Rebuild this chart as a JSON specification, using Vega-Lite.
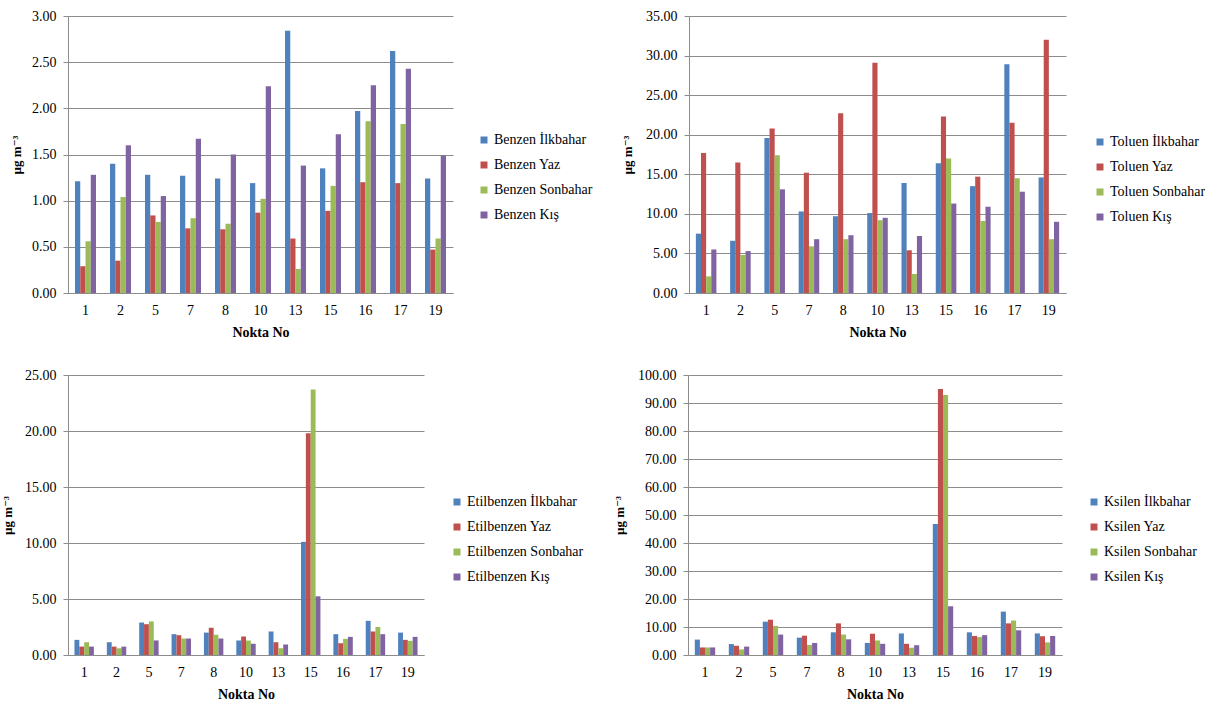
{
  "$schema": "https://vega.github.io/schema/vega-lite/v6.json",
  "padding": {"left": 1, "top": 9, "right": 0, "bottom": 0},
  "background": "white",
  "config": {
    "font": "'Liberation Serif', 'Times New Roman', 'DejaVu Serif', serif",
    "view": {"stroke": null},
    "axis": {"labelFont": "'Liberation Serif', 'Times New Roman', 'DejaVu Serif', serif", "labelFontSize": 14, "labelColor": "#000", "titleFont": "'Liberation Serif', 'Times New Roman', 'DejaVu Serif', serif", "titleFontSize": 14, "titleFontWeight": "bold", "titleColor": "#000", "domainColor": "#8c8c8c", "gridColor": "#8c8c8c", "tickColor": "#8c8c8c"},
    "axisX": {"ticks": false, "labelAngle": 0, "labelPadding": 10, "titlePadding": 8, "grid": false},
    "axisY": {"tickSize": 5, "labelPadding": 7, "grid": true, "domain": true, "titleAngle": 270, "titleBaseline": "middle", "titleFontSize": 13},
    "legend": {"orient": "none", "title": null, "symbolType": "square", "symbolSize": 49, "symbolStrokeWidth": 0, "labelFont": "'Liberation Serif', 'Times New Roman', 'DejaVu Serif', serif", "labelFontSize": 14, "labelColor": "#000", "rowPadding": 11, "labelOffset": 3, "padding": 0, "labelLimit": 300}
  },
  "datasets": {
    "d": [
      {"c":"Benzen","p":"1","s":"Benzen İlkbahar","v":1.21},{"c":"Benzen","p":"1","s":"Benzen Yaz","v":0.29},{"c":"Benzen","p":"1","s":"Benzen Sonbahar","v":0.56},{"c":"Benzen","p":"1","s":"Benzen Kış","v":1.28},
      {"c":"Benzen","p":"2","s":"Benzen İlkbahar","v":1.40},{"c":"Benzen","p":"2","s":"Benzen Yaz","v":0.35},{"c":"Benzen","p":"2","s":"Benzen Sonbahar","v":1.04},{"c":"Benzen","p":"2","s":"Benzen Kış","v":1.60},
      {"c":"Benzen","p":"5","s":"Benzen İlkbahar","v":1.28},{"c":"Benzen","p":"5","s":"Benzen Yaz","v":0.84},{"c":"Benzen","p":"5","s":"Benzen Sonbahar","v":0.77},{"c":"Benzen","p":"5","s":"Benzen Kış","v":1.05},
      {"c":"Benzen","p":"7","s":"Benzen İlkbahar","v":1.27},{"c":"Benzen","p":"7","s":"Benzen Yaz","v":0.70},{"c":"Benzen","p":"7","s":"Benzen Sonbahar","v":0.81},{"c":"Benzen","p":"7","s":"Benzen Kış","v":1.67},
      {"c":"Benzen","p":"8","s":"Benzen İlkbahar","v":1.24},{"c":"Benzen","p":"8","s":"Benzen Yaz","v":0.69},{"c":"Benzen","p":"8","s":"Benzen Sonbahar","v":0.75},{"c":"Benzen","p":"8","s":"Benzen Kış","v":1.50},
      {"c":"Benzen","p":"10","s":"Benzen İlkbahar","v":1.19},{"c":"Benzen","p":"10","s":"Benzen Yaz","v":0.87},{"c":"Benzen","p":"10","s":"Benzen Sonbahar","v":1.02},{"c":"Benzen","p":"10","s":"Benzen Kış","v":2.24},
      {"c":"Benzen","p":"13","s":"Benzen İlkbahar","v":2.84},{"c":"Benzen","p":"13","s":"Benzen Yaz","v":0.59},{"c":"Benzen","p":"13","s":"Benzen Sonbahar","v":0.26},{"c":"Benzen","p":"13","s":"Benzen Kış","v":1.38},
      {"c":"Benzen","p":"15","s":"Benzen İlkbahar","v":1.35},{"c":"Benzen","p":"15","s":"Benzen Yaz","v":0.89},{"c":"Benzen","p":"15","s":"Benzen Sonbahar","v":1.16},{"c":"Benzen","p":"15","s":"Benzen Kış","v":1.72},
      {"c":"Benzen","p":"16","s":"Benzen İlkbahar","v":1.97},{"c":"Benzen","p":"16","s":"Benzen Yaz","v":1.20},{"c":"Benzen","p":"16","s":"Benzen Sonbahar","v":1.86},{"c":"Benzen","p":"16","s":"Benzen Kış","v":2.25},
      {"c":"Benzen","p":"17","s":"Benzen İlkbahar","v":2.62},{"c":"Benzen","p":"17","s":"Benzen Yaz","v":1.19},{"c":"Benzen","p":"17","s":"Benzen Sonbahar","v":1.83},{"c":"Benzen","p":"17","s":"Benzen Kış","v":2.43},
      {"c":"Benzen","p":"19","s":"Benzen İlkbahar","v":1.24},{"c":"Benzen","p":"19","s":"Benzen Yaz","v":0.47},{"c":"Benzen","p":"19","s":"Benzen Sonbahar","v":0.59},{"c":"Benzen","p":"19","s":"Benzen Kış","v":1.49},

      {"c":"Toluen","p":"1","s":"Toluen İlkbahar","v":7.5},{"c":"Toluen","p":"1","s":"Toluen Yaz","v":17.7},{"c":"Toluen","p":"1","s":"Toluen Sonbahar","v":2.1},{"c":"Toluen","p":"1","s":"Toluen Kış","v":5.5},
      {"c":"Toluen","p":"2","s":"Toluen İlkbahar","v":6.6},{"c":"Toluen","p":"2","s":"Toluen Yaz","v":16.5},{"c":"Toluen","p":"2","s":"Toluen Sonbahar","v":4.8},{"c":"Toluen","p":"2","s":"Toluen Kış","v":5.3},
      {"c":"Toluen","p":"5","s":"Toluen İlkbahar","v":19.6},{"c":"Toluen","p":"5","s":"Toluen Yaz","v":20.8},{"c":"Toluen","p":"5","s":"Toluen Sonbahar","v":17.4},{"c":"Toluen","p":"5","s":"Toluen Kış","v":13.1},
      {"c":"Toluen","p":"7","s":"Toluen İlkbahar","v":10.3},{"c":"Toluen","p":"7","s":"Toluen Yaz","v":15.2},{"c":"Toluen","p":"7","s":"Toluen Sonbahar","v":5.9},{"c":"Toluen","p":"7","s":"Toluen Kış","v":6.8},
      {"c":"Toluen","p":"8","s":"Toluen İlkbahar","v":9.7},{"c":"Toluen","p":"8","s":"Toluen Yaz","v":22.7},{"c":"Toluen","p":"8","s":"Toluen Sonbahar","v":6.8},{"c":"Toluen","p":"8","s":"Toluen Kış","v":7.3},
      {"c":"Toluen","p":"10","s":"Toluen İlkbahar","v":10.1},{"c":"Toluen","p":"10","s":"Toluen Yaz","v":29.1},{"c":"Toluen","p":"10","s":"Toluen Sonbahar","v":9.2},{"c":"Toluen","p":"10","s":"Toluen Kış","v":9.5},
      {"c":"Toluen","p":"13","s":"Toluen İlkbahar","v":13.9},{"c":"Toluen","p":"13","s":"Toluen Yaz","v":5.4},{"c":"Toluen","p":"13","s":"Toluen Sonbahar","v":2.4},{"c":"Toluen","p":"13","s":"Toluen Kış","v":7.2},
      {"c":"Toluen","p":"15","s":"Toluen İlkbahar","v":16.4},{"c":"Toluen","p":"15","s":"Toluen Yaz","v":22.3},{"c":"Toluen","p":"15","s":"Toluen Sonbahar","v":17.0},{"c":"Toluen","p":"15","s":"Toluen Kış","v":11.3},
      {"c":"Toluen","p":"16","s":"Toluen İlkbahar","v":13.5},{"c":"Toluen","p":"16","s":"Toluen Yaz","v":14.7},{"c":"Toluen","p":"16","s":"Toluen Sonbahar","v":9.1},{"c":"Toluen","p":"16","s":"Toluen Kış","v":10.9},
      {"c":"Toluen","p":"17","s":"Toluen İlkbahar","v":28.9},{"c":"Toluen","p":"17","s":"Toluen Yaz","v":21.5},{"c":"Toluen","p":"17","s":"Toluen Sonbahar","v":14.5},{"c":"Toluen","p":"17","s":"Toluen Kış","v":12.8},
      {"c":"Toluen","p":"19","s":"Toluen İlkbahar","v":14.6},{"c":"Toluen","p":"19","s":"Toluen Yaz","v":32.0},{"c":"Toluen","p":"19","s":"Toluen Sonbahar","v":6.8},{"c":"Toluen","p":"19","s":"Toluen Kış","v":9.0},

      {"c":"Etilbenzen","p":"1","s":"Etilbenzen İlkbahar","v":1.35},{"c":"Etilbenzen","p":"1","s":"Etilbenzen Yaz","v":0.75},{"c":"Etilbenzen","p":"1","s":"Etilbenzen Sonbahar","v":1.14},{"c":"Etilbenzen","p":"1","s":"Etilbenzen Kış","v":0.75},
      {"c":"Etilbenzen","p":"2","s":"Etilbenzen İlkbahar","v":1.14},{"c":"Etilbenzen","p":"2","s":"Etilbenzen Yaz","v":0.75},{"c":"Etilbenzen","p":"2","s":"Etilbenzen Sonbahar","v":0.6},{"c":"Etilbenzen","p":"2","s":"Etilbenzen Kış","v":0.75},
      {"c":"Etilbenzen","p":"5","s":"Etilbenzen İlkbahar","v":2.9},{"c":"Etilbenzen","p":"5","s":"Etilbenzen Yaz","v":2.75},{"c":"Etilbenzen","p":"5","s":"Etilbenzen Sonbahar","v":3.0},{"c":"Etilbenzen","p":"5","s":"Etilbenzen Kış","v":1.3},
      {"c":"Etilbenzen","p":"7","s":"Etilbenzen İlkbahar","v":1.86},{"c":"Etilbenzen","p":"7","s":"Etilbenzen Yaz","v":1.77},{"c":"Etilbenzen","p":"7","s":"Etilbenzen Sonbahar","v":1.47},{"c":"Etilbenzen","p":"7","s":"Etilbenzen Kış","v":1.47},
      {"c":"Etilbenzen","p":"8","s":"Etilbenzen İlkbahar","v":2.0},{"c":"Etilbenzen","p":"8","s":"Etilbenzen Yaz","v":2.43},{"c":"Etilbenzen","p":"8","s":"Etilbenzen Sonbahar","v":1.8},{"c":"Etilbenzen","p":"8","s":"Etilbenzen Kış","v":1.47},
      {"c":"Etilbenzen","p":"10","s":"Etilbenzen İlkbahar","v":1.29},{"c":"Etilbenzen","p":"10","s":"Etilbenzen Yaz","v":1.65},{"c":"Etilbenzen","p":"10","s":"Etilbenzen Sonbahar","v":1.29},{"c":"Etilbenzen","p":"10","s":"Etilbenzen Kış","v":1.0},
      {"c":"Etilbenzen","p":"13","s":"Etilbenzen İlkbahar","v":2.1},{"c":"Etilbenzen","p":"13","s":"Etilbenzen Yaz","v":1.14},{"c":"Etilbenzen","p":"13","s":"Etilbenzen Sonbahar","v":0.6},{"c":"Etilbenzen","p":"13","s":"Etilbenzen Kış","v":0.93},
      {"c":"Etilbenzen","p":"15","s":"Etilbenzen İlkbahar","v":10.1},{"c":"Etilbenzen","p":"15","s":"Etilbenzen Yaz","v":19.8},{"c":"Etilbenzen","p":"15","s":"Etilbenzen Sonbahar","v":23.7},{"c":"Etilbenzen","p":"15","s":"Etilbenzen Kış","v":5.24},
      {"c":"Etilbenzen","p":"16","s":"Etilbenzen İlkbahar","v":1.86},{"c":"Etilbenzen","p":"16","s":"Etilbenzen Yaz","v":1.05},{"c":"Etilbenzen","p":"16","s":"Etilbenzen Sonbahar","v":1.44},{"c":"Etilbenzen","p":"16","s":"Etilbenzen Kış","v":1.62},
      {"c":"Etilbenzen","p":"17","s":"Etilbenzen İlkbahar","v":3.05},{"c":"Etilbenzen","p":"17","s":"Etilbenzen Yaz","v":2.1},{"c":"Etilbenzen","p":"17","s":"Etilbenzen Sonbahar","v":2.5},{"c":"Etilbenzen","p":"17","s":"Etilbenzen Kış","v":1.86},
      {"c":"Etilbenzen","p":"19","s":"Etilbenzen İlkbahar","v":2.0},{"c":"Etilbenzen","p":"19","s":"Etilbenzen Yaz","v":1.35},{"c":"Etilbenzen","p":"19","s":"Etilbenzen Sonbahar","v":1.26},{"c":"Etilbenzen","p":"19","s":"Etilbenzen Kış","v":1.62},

      {"c":"Ksilen","p":"1","s":"Ksilen İlkbahar","v":5.5},{"c":"Ksilen","p":"1","s":"Ksilen Yaz","v":2.7},{"c":"Ksilen","p":"1","s":"Ksilen Sonbahar","v":2.7},{"c":"Ksilen","p":"1","s":"Ksilen Kış","v":2.7},
      {"c":"Ksilen","p":"2","s":"Ksilen İlkbahar","v":3.9},{"c":"Ksilen","p":"2","s":"Ksilen Yaz","v":3.3},{"c":"Ksilen","p":"2","s":"Ksilen Sonbahar","v":2.0},{"c":"Ksilen","p":"2","s":"Ksilen Kış","v":3.0},
      {"c":"Ksilen","p":"5","s":"Ksilen İlkbahar","v":11.9},{"c":"Ksilen","p":"5","s":"Ksilen Yaz","v":12.6},{"c":"Ksilen","p":"5","s":"Ksilen Sonbahar","v":10.4},{"c":"Ksilen","p":"5","s":"Ksilen Kış","v":7.3},
      {"c":"Ksilen","p":"7","s":"Ksilen İlkbahar","v":6.2},{"c":"Ksilen","p":"7","s":"Ksilen Yaz","v":6.9},{"c":"Ksilen","p":"7","s":"Ksilen Sonbahar","v":3.6},{"c":"Ksilen","p":"7","s":"Ksilen Kış","v":4.3},
      {"c":"Ksilen","p":"8","s":"Ksilen İlkbahar","v":8.1},{"c":"Ksilen","p":"8","s":"Ksilen Yaz","v":11.3},{"c":"Ksilen","p":"8","s":"Ksilen Sonbahar","v":7.3},{"c":"Ksilen","p":"8","s":"Ksilen Kış","v":5.6},
      {"c":"Ksilen","p":"10","s":"Ksilen İlkbahar","v":4.3},{"c":"Ksilen","p":"10","s":"Ksilen Yaz","v":7.6},{"c":"Ksilen","p":"10","s":"Ksilen Sonbahar","v":5.2},{"c":"Ksilen","p":"10","s":"Ksilen Kış","v":4.0},
      {"c":"Ksilen","p":"13","s":"Ksilen İlkbahar","v":7.7},{"c":"Ksilen","p":"13","s":"Ksilen Yaz","v":4.0},{"c":"Ksilen","p":"13","s":"Ksilen Sonbahar","v":2.6},{"c":"Ksilen","p":"13","s":"Ksilen Kış","v":3.5},
      {"c":"Ksilen","p":"15","s":"Ksilen İlkbahar","v":46.8},{"c":"Ksilen","p":"15","s":"Ksilen Yaz","v":95.0},{"c":"Ksilen","p":"15","s":"Ksilen Sonbahar","v":92.9},{"c":"Ksilen","p":"15","s":"Ksilen Kış","v":17.4},
      {"c":"Ksilen","p":"16","s":"Ksilen İlkbahar","v":8.1},{"c":"Ksilen","p":"16","s":"Ksilen Yaz","v":6.8},{"c":"Ksilen","p":"16","s":"Ksilen Sonbahar","v":6.4},{"c":"Ksilen","p":"16","s":"Ksilen Kış","v":7.1},
      {"c":"Ksilen","p":"17","s":"Ksilen İlkbahar","v":15.5},{"c":"Ksilen","p":"17","s":"Ksilen Yaz","v":11.3},{"c":"Ksilen","p":"17","s":"Ksilen Sonbahar","v":12.3},{"c":"Ksilen","p":"17","s":"Ksilen Kış","v":8.8},
      {"c":"Ksilen","p":"19","s":"Ksilen İlkbahar","v":7.7},{"c":"Ksilen","p":"19","s":"Ksilen Yaz","v":6.7},{"c":"Ksilen","p":"19","s":"Ksilen Sonbahar","v":4.5},{"c":"Ksilen","p":"19","s":"Ksilen Kış","v":6.8}
    ]
  },
  "spacing": 29,
  "resolve": {"scale": {"color": "independent", "x": "independent", "y": "independent", "xOffset": "independent"}, "legend": {"color": "independent"}},
  "vconcat": [
    {
      "hconcat": [
        {
          "width": 385, "height": 277,
          "data": {"name": "d"},
          "transform": [{"filter": "datum.c === 'Benzen'"}],
          "mark": {"type": "bar"},
          "encoding": {
            "x": {"field": "p", "type": "nominal", "sort": null, "scale": {"paddingInner": 0.4, "paddingOuter": 0.2}, "axis": {"title": "Nokta No"}},
            "xOffset": {"field": "s", "type": "nominal", "sort": null, "scale": {"paddingInner": 0, "paddingOuter": 0}},
            "y": {"field": "v", "type": "quantitative", "scale": {"domain": [0, 3], "nice": false}, "axis": {"values": [0, 0.5, 1, 1.5, 2, 2.5, 3], "format": ".2f", "title": "µg m⁻³", "titleX": -51.5}},
            "color": {"field": "s", "type": "nominal", "sort": null, "scale": {"range": ["#4F81BD", "#C0504D", "#9BBB59", "#8064A2"]}, "legend": {"legendX": 409, "legendY": 117}}
          }
        },
        {
          "width": 377, "height": 277,
          "data": {"name": "d"},
          "transform": [{"filter": "datum.c === 'Toluen'"}],
          "mark": {"type": "bar"},
          "encoding": {
            "x": {"field": "p", "type": "nominal", "sort": null, "scale": {"paddingInner": 0.4, "paddingOuter": 0.2}, "axis": {"title": "Nokta No"}},
            "xOffset": {"field": "s", "type": "nominal", "sort": null, "scale": {"paddingInner": 0, "paddingOuter": 0}},
            "y": {"field": "v", "type": "quantitative", "scale": {"domain": [0, 35], "nice": false}, "axis": {"values": [0, 5, 10, 15, 20, 25, 30, 35], "format": ".2f", "title": "µg m⁻³", "titleX": -62}},
            "color": {"field": "s", "type": "nominal", "sort": null, "scale": {"range": ["#4F81BD", "#C0504D", "#9BBB59", "#8064A2"]}, "legend": {"legendX": 404, "legendY": 119}}
          }
        }
      ],
      "spacing": 236,
      "bounds": "flush",
      "resolve": {"scale": {"color": "independent", "x": "independent", "y": "independent", "xOffset": "independent"}, "legend": {"color": "independent"}}
    },
    {
      "hconcat": [
        {
          "width": 356, "height": 280,
          "data": {"name": "d"},
          "transform": [{"filter": "datum.c === 'Etilbenzen'"}],
          "mark": {"type": "bar"},
          "encoding": {
            "x": {"field": "p", "type": "nominal", "sort": null, "scale": {"paddingInner": 0.4, "paddingOuter": 0.2}, "axis": {"title": "Nokta No"}},
            "xOffset": {"field": "s", "type": "nominal", "sort": null, "scale": {"paddingInner": 0, "paddingOuter": 0}},
            "y": {"field": "v", "type": "quantitative", "scale": {"domain": [0, 25], "nice": false}, "axis": {"values": [0, 5, 10, 15, 20, 25], "format": ".2f", "title": "µg m⁻³", "titleX": -60.5}},
            "color": {"field": "s", "type": "nominal", "sort": null, "scale": {"range": ["#4F81BD", "#C0504D", "#9BBB59", "#8064A2"]}, "legend": {"legendX": 382, "legendY": 120}}
          }
        },
        {
          "width": 374, "height": 280,
          "data": {"name": "d"},
          "transform": [{"filter": "datum.c === 'Ksilen'"}],
          "mark": {"type": "bar"},
          "encoding": {
            "x": {"field": "p", "type": "nominal", "sort": null, "scale": {"paddingInner": 0.4, "paddingOuter": 0.2}, "axis": {"title": "Nokta No"}},
            "xOffset": {"field": "s", "type": "nominal", "sort": null, "scale": {"paddingInner": 0, "paddingOuter": 0}},
            "y": {"field": "v", "type": "quantitative", "scale": {"domain": [0, 100], "nice": false}, "axis": {"values": [0, 10, 20, 30, 40, 50, 60, 70, 80, 90, 100], "format": ".2f", "title": "µg m⁻³", "titleX": -69}},
            "color": {"field": "s", "type": "nominal", "sort": null, "scale": {"range": ["#4F81BD", "#C0504D", "#9BBB59", "#8064A2"]}, "legend": {"legendX": 399, "legendY": 120}}
          }
        }
      ],
      "spacing": 264,
      "bounds": "flush",
      "resolve": {"scale": {"color": "independent", "x": "independent", "y": "independent", "xOffset": "independent"}, "legend": {"color": "independent"}}
    }
  ]
}
